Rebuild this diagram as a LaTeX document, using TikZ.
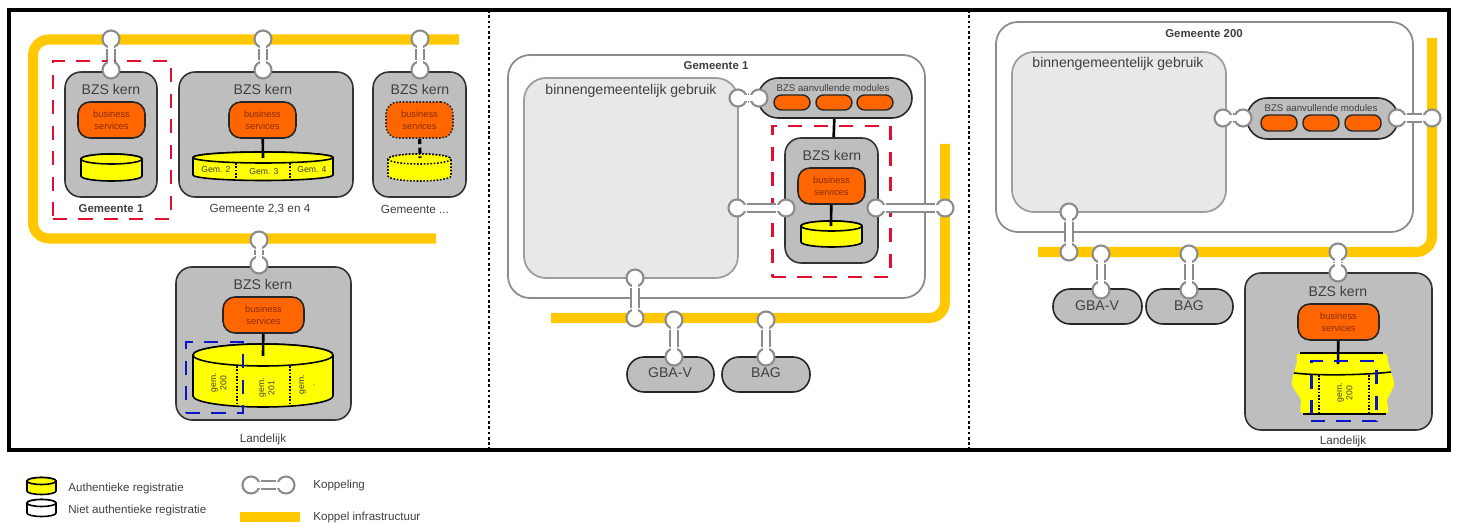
\documentclass[tikz,border=0pt]{standalone}
\usepackage{fontspec}
\setmainfont{Liberation Sans}
\usetikzlibrary{positioning}
\definecolor{koppelyellow}{HTML}{FFC800}
\definecolor{kerngrey}{HTML}{BEBEBE}
\definecolor{usegrey}{HTML}{E8E8E8}
\definecolor{edgegrey}{HTML}{8C8C8C}
\definecolor{serviceorange}{HTML}{FF6600}
\definecolor{regyellow}{HTML}{FFFF00}
\definecolor{markred}{HTML}{E01030}
\definecolor{markblue}{HTML}{0A14C8}
\definecolor{bodytext}{HTML}{404040}
\definecolor{servicetext}{HTML}{8C2A00}

\tikzset{
    kernbox/.style={draw=black!80, fill=kerngrey, line width=0.9pt, rounded corners=0.32cm, inner sep=0pt},
    servicebox/.style={draw=black!85, fill=serviceorange, line width=0.9pt, rounded corners=0.24cm, inner sep=0pt, align=center, text=servicetext, font=\fontsize{5.3}{6.8}\selectfont},
    pillbox/.style={draw=black!85, fill=kerngrey, line width=0.9pt, rounded corners=0.4cm, inner sep=0pt},
    smallpill/.style={draw=black!85, fill=serviceorange, line width=0.8pt, rounded corners=0.15cm, inner sep=0pt},
    gemeentebox/.style={draw=edgegrey, fill=white, line width=1pt, rounded corners=0.44cm, inner sep=0pt},
    usebox/.style={draw=edgegrey!85, fill=usegrey, line width=1pt, rounded corners=0.44cm, inner sep=0pt},
    markdash/.style={dash pattern=on 8pt off 6.5pt, line width=1.7pt, inner sep=0pt},
    infra/.style={draw=koppelyellow, line width=5.7pt, rounded corners=0.32cm},
    koppeldot/.style={circle, draw=edgegrey, fill=white, line width=1.2pt, minimum size=0.34cm, inner sep=0pt},
    koppelouter/.style={draw=edgegrey, line width=5.8pt},
    koppelinner/.style={draw=white, line width=3.4pt},
    kerntext/.style={text=bodytext, font=\fontsize{8}{9}\selectfont, inner sep=0pt},
    smalltext/.style={text=bodytext, font=\fontsize{6.7}{8}\selectfont, inner sep=0pt},
    boldtext/.style={text=black!75, font=\fontsize{6.5}{8}\selectfont\bfseries, inner sep=0pt},
    gemtext/.style={text=black!75, font=\fontsize{4.9}{5.8}\selectfont, inner sep=0pt, align=center},
    moduletext/.style={text=bodytext, font=\fontsize{5.5}{7}\selectfont, inner sep=0pt},
    legendtext/.style={text=bodytext, font=\fontsize{6.6}{8}\selectfont, inner sep=0pt, anchor=west},
    regline/.style={draw=black, line width=0.9pt},
    cutline/.style={draw=black, line width=0.9pt, densely dotted},
}

% box given by its corners in picture pixels
\newcommand{\blok}[7]{\node[#2, minimum width={(#5-#3)*0.02cm}, minimum height={(#6-#4)*0.02cm}] (#1) at ({(#3+#5)/2},{(#4+#6)/2}) {#7};}
% coupling between two named dots
\newcommand{\koppel}[3]{
    \node[koppeldot] (#1a) at (#2) {};
    \node[koppeldot] (#1b) at (#3) {};
    \draw[koppelouter] (#1a) -- (#1b);
    \draw[koppelinner] (#1a.center) -- (#1b.center);
}
% register cylinder: style, left, top centre, right, bottom centre, radius
\newcommand{\regcyl}[6]{
    \draw[regline, #1] (#2,#3) -- (#2,#5) arc[start angle=180, end angle=0, x radius={(#4-#2)/2}, y radius=#6] -- (#4,#3) arc[start angle=0, end angle=-180, x radius={(#4-#2)/2}, y radius=#6] -- cycle;
    \draw[regline, #1] ({(#2+#4)/2},#3) ellipse[x radius={(#4-#2)/2}, y radius=#6];
}

\begin{document}
\begin{tikzpicture}[x=0.02cm, y=-0.02cm]
    \useasboundingbox (0,0) rectangle (1457,523);
    \fill[white] (0,0) rectangle (1457,523);

    % Panels
    \draw[black, line width=1.8pt] (9,10) rectangle (1449,450);
    \foreach \x in {489,969} {
        \draw[black, line width=1.5pt, dash pattern=on 1.5pt off 1.5pt] (\x,10) -- (\x,450);
    }

    % Left panel: infrastructure
    \draw[infra] (459,39.5) -- (33,39.5) -- (33,238.5) -- (436,238.5);

    % Gemeente 1
    \blok{kernA}{kernbox}{65}{72}{157}{197}{}
    \node[kerntext] (kernAtxt) at (111,89) {BZS kern};
    \blok{bsA}{servicebox}{78}{102}{145}{138}{business\\services}
    \regcyl{fill=regyellow}{81}{159}{142}{176}{5}
    \node[boldtext] (gemA) at (111,209) {Gemeente 1};
    \blok{markA}{draw=markred, markdash}{53}{61}{171}{219}{}

    % Gemeente 2,3 en 4
    \blok{kernB}{kernbox}{179}{72}{353}{197}{}
    \node[kerntext] (kernBtxt) at (263,89) {BZS kern};
    \blok{bsB}{servicebox}{229}{102}{296}{138}{business\\services}
    \regcyl{fill=regyellow}{193}{157.5}{333}{175}{5.5}
    \coordinate (cylB) at (263,158);
    \draw[regline, line width=1.5pt] (bsB) -- (cylB);
    \foreach \x in {236,290} {
        \draw[cutline] (\x,163) -- (\x,180);
    }
    \node[gemtext] (gem2) at (216,170) {Gem. 2};
    \node[gemtext] (gem3) at (264,172) {Gem. 3};
    \node[gemtext] (gem4) at (312,170) {Gem. 4};
    \node[smalltext] (gemB) at (260,209) {Gemeente 2,3 en 4};

    % Gemeente ...
    \blok{kernC}{kernbox}{373}{72}{466}{197}{}
    \node[kerntext] (kernCtxt) at (420,89) {BZS kern};
    \blok{bsC}{servicebox, densely dotted}{386}{102}{453}{138}{business\\services}
    \regcyl{fill=regyellow, densely dotted}{388}{159}{451}{176}{5}
    \coordinate (cylC) at (420,158);
    \draw[regline, line width=1.8pt, densely dashed] (bsC) -- (cylC);
    \node[smalltext] (gemC) at (415,209) {Gemeente ...};

    % Landelijk
    \blok{kernD}{kernbox}{176}{267}{351}{420}{}
    \node[kerntext] (kernDtxt) at (263,284) {BZS kern};
    \blok{bsD}{servicebox}{223}{297}{304}{333}{business\\services}
    \regcyl{fill=regyellow}{193}{355}{333}{396}{11}
    \coordinate (cylD) at (263,356);
    \draw[regline, line width=1.5pt] (bsD) -- (cylD);
    \foreach \x in {237,290} {
        \draw[cutline] (\x,366) -- (\x,406);
    }
    \node[gemtext, rotate=90] (gem200) at (219,383) {gem.\\200};
    \node[gemtext, rotate=90] (gem201) at (267,388) {gem.\\201};
    \node[gemtext, rotate=90] (gemdots) at (307,385) {gem.\\ .};
    \blok{markD}{draw=markblue, markdash}{186}{342}{243}{413}{}
    \node[smalltext] (landA) at (263,439) {Landelijk};

    % Left panel: couplings
    \koppel{kA}{111,39}{111,70}
    \koppel{kB}{263,39}{263,70}
    \koppel{kC}{420,39}{420,70}
    \koppel{kD}{259,240}{259,265}

    % Middle panel
    \draw[infra] (945,144) -- (945,318) -- (551,318);
    \blok{gemBox}{gemeentebox}{508}{55}{925}{298}{}
    \node[boldtext] (gemBoxtxt) at (716,66) {Gemeente 1};
    \blok{useA}{usebox}{524}{78}{738}{278}{}
    \node[kerntext] (useAtxt) at (631,91) {binnengemeentelijk gebruik};
    \blok{modA}{pillbox}{758}{78}{912}{118}{}
    \node[moduletext] (modAtxt) at (833,88) {BZS aanvullende modules};
    \foreach \x/\n in {774/a,816/b,857/c} {
        \blok{pillA\n}{smallpill}{\x}{95}{\x+36}{110}{}
    }
    \blok{kernE}{kernbox}{785}{138}{878}{263}{}
    \draw[regline, line width=1.5pt] (modA) -- (kernE);
    \node[kerntext] (kernEtxt) at (832,155) {BZS kern};
    \blok{bsE}{servicebox}{798}{168}{865}{204}{business\\services}
    \regcyl{fill=regyellow}{801}{226}{862}{242}{5}
    \coordinate (cylE) at (831,226);
    \draw[regline, line width=1.5pt] (bsE) -- (cylE);
    \blok{markE}{draw=markred, markdash}{772}{126}{890}{277}{}
    \blok{gbaA}{pillbox, rounded corners=0.34cm}{627}{357}{714}{392}{}
    \blok{bagA}{pillbox, rounded corners=0.34cm}{722}{357}{810}{392}{}
    \node[kerntext] (gbaAtxt) at (670,373) {GBA-V};
    \node[kerntext] (bagAtxt) at (766,373) {BAG};
    \koppel{kE}{738,98}{759,98}
    \koppel{kF}{737,208}{786,208}
    \koppel{kG}{876,208}{945,208}
    \koppel{kH}{635,278}{635,318}
    \koppel{kI}{674,320}{674,357}
    \koppel{kJ}{766,320}{766,357}

    % Right panel
    \draw[infra] (1432,38) -- (1432,252) -- (1038,252);
    \blok{gemBoxB}{gemeentebox}{996}{22}{1413}{232}{}
    \node[boldtext] (gemBoxBtxt) at (1204,34) {Gemeente 200};
    \blok{useB}{usebox}{1012}{52}{1226}{212}{}
    \node[kerntext] (useBtxt) at (1118,64) {binnengemeentelijk gebruik};
    \blok{modB}{pillbox}{1247}{98}{1398}{139}{}
    \node[moduletext] (modBtxt) at (1321,108) {BZS aanvullende modules};
    \foreach \x/\n in {1261/a,1303/b,1345/c} {
        \blok{pillB\n}{smallpill}{\x}{115}{\x+36}{131}{}
    }
    \blok{gbaB}{pillbox, rounded corners=0.34cm}{1053}{289}{1142}{324}{}
    \blok{bagB}{pillbox, rounded corners=0.34cm}{1146}{289}{1233}{324}{}
    \node[kerntext] (gbaBtxt) at (1097,306) {GBA-V};
    \node[kerntext] (bagBtxt) at (1189,306) {BAG};

    % Landelijk, cut open
    \blok{kernF}{kernbox}{1245}{273}{1432}{430}{}
    \node[kerntext] (kernFtxt) at (1338,291) {BZS kern};
    \blok{bsF}{servicebox}{1298}{304}{1379}{340}{business\\services}
    \fill[regyellow] plot[smooth cycle, tension=0.5] coordinates {(1300,353) (1341,353) (1383,353) (1388,362) (1391,372) (1394,385) (1387,400) (1386,414) (1345,414) (1303,414) (1301,400) (1292,385) (1294,373) (1297,362)};
    \draw[regline] (1300,353) -- (1383,353);
    \draw[regline] (1294,373) .. controls (1320,376) and (1365,375) .. (1391,372);
    \draw[regline] (1303,414) -- (1386,414);
    \coordinate (cylF) at (1338,364);
    \draw[regline, line width=1.5pt] (bsF) -- (cylF);
    \foreach \x in {1319,1369} {
        \draw[cutline] (\x,375) -- (\x,414);
    }
    \node[gemtext, rotate=90] (gem200b) at (1345,393) {gem.\\200};
    \blok{markF}{draw=markblue, markdash}{1311}{361}{1376}{421}{}
    \node[smalltext] (landB) at (1343,441) {Landelijk};

    % Right panel: couplings
    \koppel{kK}{1223,118}{1243,118}
    \koppel{kL}{1397,118}{1432,118}
    \koppel{kM}{1069,212}{1069,252}
    \koppel{kN}{1101,254}{1101,290}
    \koppel{kO}{1189,254}{1189,290}
    \koppel{kP}{1338,252}{1338,273}

    % Legend
    \regcyl{fill=regyellow}{27}{481}{56}{491}{3.5}
    \node[legendtext] (legA) at (68,489) {Authentieke registratie};
    \regcyl{fill=white}{27}{503}{56}{513}{3.5}
    \node[legendtext] (legB) at (68,511) {Niet authentieke registratie};
    \koppel{kLeg}{251,485}{286,485}
    \node[legendtext] (legC) at (313,486) {Koppeling};
    \fill[koppelyellow] (240,512) rectangle (300,522);
    \node[legendtext] (legD) at (313,518) {Koppel infrastructuur};
\end{tikzpicture}
\end{document}
